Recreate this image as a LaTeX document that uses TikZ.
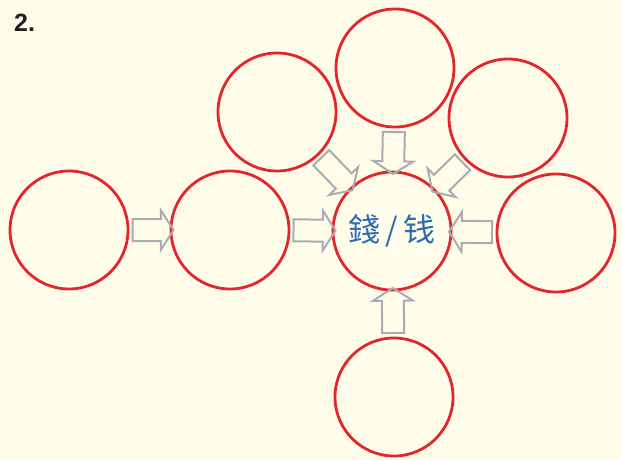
\documentclass[tikz,border=0pt]{standalone}
\usepackage{fontspec}
\newfontfamily\cjk{Noto Sans CJK TC}
\newfontfamily\headfont{Liberation Sans}
\usetikzlibrary{shapes.arrows}
\definecolor{paper}{HTML}{FFFDEA}
\definecolor{ringred}{HTML}{E3262B}
\definecolor{arrowgray}{HTML}{A9ACB2}
\definecolor{inkblue}{HTML}{2B6CB3}
\definecolor{inkblack}{HTML}{231F20}

\begin{document}
\begin{tikzpicture}[x=1pt,y=-1pt,
  bubble/.style={circle,draw=ringred,line width=2.8pt,minimum size=118pt,inner sep=0pt},
  flow/.style={sloped,allow upside down,single arrow,draw=arrowgray,line width=2pt,
    inner xsep=0pt,inner ysep=10pt,single arrow head extend=9pt,
    single arrow tip angle=115,minimum height=#1},
  flow/.default=42pt]
  \fill[paper] (0,0) rectangle (622,460); % 背景
  \useasboundingbox (0,0) rectangle (622,460);
  \node[anchor=base west,inner sep=0pt,text=inkblack,font=\headfont\bfseries\fontsize{25}{25}\selectfont]
    (num) at (14,32) {2.}; % 題號
  \node[bubble,text=inkblue,font=\cjk\fontsize{32}{32}\selectfont] (core) at (392,231) {錢\,/\,钱}; % 中心
  \node[bubble] (far) at (69,230) {}; % 左端
  \node[bubble] (near) at (230,230) {}; % 左二
  \node[bubble] (top) at (395,68) {}; % 上
  \node[bubble] (topleft) at (277,112) {}; % 左上
  \node[bubble] (topright) at (508,118) {}; % 右上
  \node[bubble] (right) at (556,233) {}; % 右
  \node[bubble] (bottom) at (394,397) {}; % 下
  \path (far) -- node[flow=41pt] {} (near); % 左端 → 左二
  \path (near) -- node[flow=42pt] {} (core); % 左二 → 中心
  \path (top) -- node[flow=42pt] {} (core); % 上 → 中心
  \path (topleft) -- node[flow=45pt] {} (core); % 左上 → 中心
  \path (topright) -- node[flow=42pt] {} (core); % 右上 → 中心
  \path (right) -- node[flow=43pt] {} (core); % 右 → 中心
  \path (bottom) -- node[flow=45pt] {} (core); % 下 → 中心
\end{tikzpicture}
\end{document}
